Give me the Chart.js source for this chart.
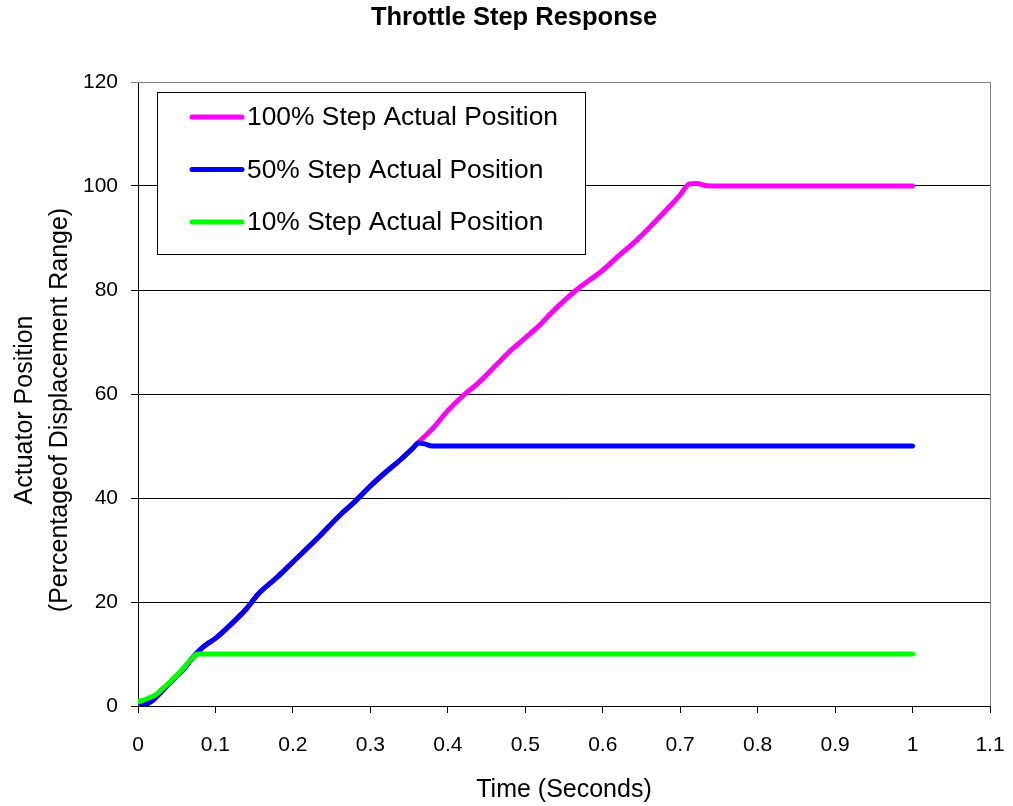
<!DOCTYPE html>
<html>
<head>
<meta charset="utf-8">
<title>Throttle Step Response</title>
<script src="https://cdn.jsdelivr.net/npm/chart.js@4/dist/chart.umd.min.js"></script>
<style>
  body { margin: 0; background: #fff; }
  #wrap { width: 1013px; height: 806px; }
</style>
</head>
<body>
<div id="wrap"><canvas id="stepChart" width="1013" height="806"></canvas></div>
<script>
// === Data ===
const seriesNames = [
  "100% Step Actual Position",
  "50% Step Actual Position",
  "10% Step Actual Position",
];
const seriesColors = ["#ff00ff", "#0000ff", "#00ff00"];

// 100% step
const time100 = [0, 0.01, 0.02, 0.03, 0.04, 0.05, 0.06, 0.07, 0.08, 0.09, 0.1, 0.12, 0.14, 0.155, 0.18, 0.2, 0.23, 0.26, 0.28, 0.3, 0.32, 0.34, 0.355, 0.36, 0.38, 0.4, 0.422, 0.44, 0.46, 0.48, 0.5, 0.519, 0.535, 0.566, 0.6, 0.62, 0.644, 0.67, 0.686, 0.7, 0.712, 0.721, 0.735, 0.75, 1.0];
const pos100 = [0, 0.3, 1.2, 2.7, 4.3, 5.8, 7.3, 9.2, 10.8, 12, 13, 15.7, 18.7, 21.5, 24.8, 27.7, 32, 36.6, 39.3, 42.3, 45, 47.5, 49.6, 50.4, 53.3, 56.8, 60, 62.2, 65.2, 68.2, 70.8, 73.3, 75.8, 80, 83.8, 86.5, 89.6, 93.5, 96, 98.3, 100.4, 100.5, 100.05, 100, 100];

// 50% step
const time50 = [0, 0.01, 0.02, 0.03, 0.04, 0.05, 0.06, 0.07, 0.08, 0.09, 0.1, 0.12, 0.14, 0.155, 0.18, 0.2, 0.23, 0.26, 0.28, 0.3, 0.32, 0.34, 0.355, 0.362, 0.37, 0.38, 1.0];
const pos50 = [0, 0.3, 1.2, 2.7, 4.3, 5.8, 7.3, 9.2, 10.8, 12, 13, 15.7, 18.7, 21.5, 24.8, 27.7, 32, 36.6, 39.3, 42.3, 45, 47.5, 49.6, 50.6, 50.4, 50, 50];

// 10% step
const time10 = [0, 0.01, 0.022, 0.03, 0.041, 0.05, 0.06, 0.07, 0.077, 1.0];
const pos10 = [0.8, 1.3, 2.1, 3.1, 4.6, 5.9, 7.5, 9.2, 10, 10];

const xTicks = { min: 0, max: 1.1, step: 0.1 };
const yTicks = { min: 0, max: 120, step: 20 };

const FONT = "'Liberation Sans', Arial, sans-serif";

function toPoints(xs, ys) {
  return xs.map((x, i) => ({ x: x, y: ys[i] }));
}

// === Extra drawing: titles, plot frame, inner legend ===
const decorPlugin = {
  id: "decor",
  beforeDatasetsDraw(chart) {
    const { ctx, chartArea: a } = chart;
    ctx.save();
    ctx.strokeStyle = "#808080";
    ctx.lineWidth = 1;
    ctx.beginPath();
    ctx.moveTo(a.left, a.top + 0.5);
    ctx.lineTo(a.right + 0.5, a.top + 0.5);
    ctx.lineTo(a.right + 0.5, a.bottom);
    ctx.stroke();
    ctx.restore();
  },
  afterDraw(chart) {
    const { ctx, chartArea: a } = chart;
    ctx.save();
    ctx.fillStyle = "#000";
    ctx.textAlign = "center";
    ctx.textBaseline = "middle";

    // chart title
    ctx.font = "bold 25.5px " + FONT;
    ctx.fillText("Throttle Step Response", 514, 18);

    // axis titles
    ctx.font = "25px " + FONT;
    ctx.fillText("Time (Seconds)", (a.left + a.right) / 2, 790);
    ctx.save();
    ctx.translate(25, 410);
    ctx.rotate(-Math.PI / 2);
    ctx.fillText("Actuator Position", 0, 0);
    ctx.fillText("(Percentageof Displacement Range)", 0, 35);
    ctx.restore();

    // legend box inside the plot
    const bx = 157, by = 92, bw = 428, bh = 162;
    ctx.fillStyle = "#fff";
    ctx.fillRect(bx, by, bw, bh);
    ctx.strokeStyle = "#000";
    ctx.lineWidth = 1;
    ctx.strokeRect(bx + 0.5, by + 0.5, bw, bh);
    ctx.textAlign = "left";
    ctx.font = "26.4px " + FONT;
    seriesNames.forEach((name, i) => {
      const y = 117 + i * 52.5;
      ctx.strokeStyle = seriesColors[i];
      ctx.lineWidth = 5;
      ctx.lineCap = "round";
      ctx.beginPath();
      ctx.moveTo(192, y);
      ctx.lineTo(242, y);
      ctx.stroke();
      ctx.fillStyle = "#000";
      ctx.fillText(name, 247, y + 1);
    });
    ctx.restore();
  },
};

// === Draw Chart ===
const datasets = [
  { label: seriesNames[0], data: toPoints(time100, pos100), borderColor: seriesColors[0], order: 3 },
  { label: seriesNames[1], data: toPoints(time50, pos50), borderColor: seriesColors[1], order: 2 },
  { label: seriesNames[2], data: toPoints(time10, pos10), borderColor: seriesColors[2], order: 1 },
].map((d) => Object.assign(d, {
  borderWidth: 5,
  pointRadius: 0,
  fill: false,
  cubicInterpolationMode: "monotone",
  borderJoinStyle: "round",
  borderCapStyle: "round",
}));

new Chart(document.getElementById("stepChart"), {
  type: "line",
  data: { datasets: datasets },
  options: {
    responsive: false,
    devicePixelRatio: 1,
    animation: false,
    layout: { padding: { top: 82, right: 23, left: 0, bottom: 0 } },
    plugins: {
      legend: { display: false },
      title: { display: false },
      tooltip: { enabled: false },
    },
    scales: {
      x: {
        type: "linear",
        min: xTicks.min,
        max: xTicks.max,
        afterFit: (s) => {
          s.height = 100;
          s.paddingLeft = 0;
          s.paddingRight = 0;
        },
        border: { color: "#000", width: 1 },
        grid: { drawOnChartArea: false, drawTicks: true, tickLength: 7, color: "#000" },
        ticks: {
          stepSize: xTicks.step,
          color: "#000",
          padding: 20,
          maxRotation: 0,
          font: { family: FONT, size: 21 },
          callback: (v) => +v.toFixed(1) + "",
        },
      },
      y: {
        min: yTicks.min,
        max: yTicks.max,
        afterFit: (s) => { s.width = 138; },
        border: { color: "#000", width: 1 },
        grid: {
          color: (c) => (c.tick && c.tick.value === yTicks.max ? "#808080" : "#000"),
          lineWidth: 1,
          tickLength: 7,
        },
        ticks: {
          stepSize: yTicks.step,
          color: "#000",
          padding: 13,
          font: { family: FONT, size: 21 },
        },
      },
    },
  },
  plugins: [decorPlugin],
});
</script>
</body>
</html>
